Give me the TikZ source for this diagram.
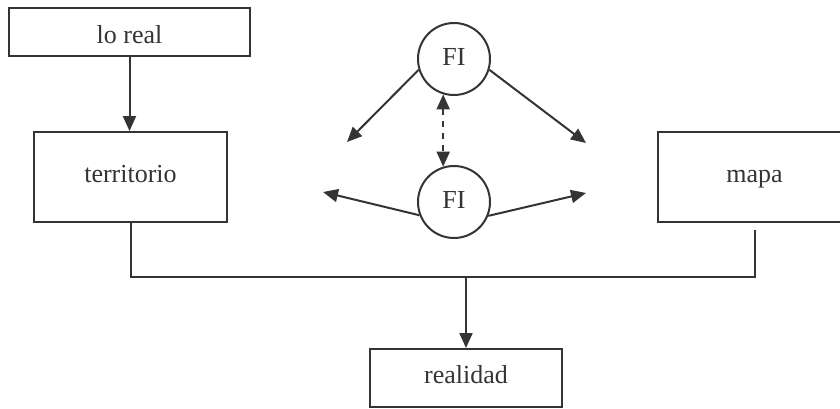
\documentclass[tikz,border=0pt]{standalone}
\usepackage{fontspec}
\setmainfont{Liberation Serif}
\usetikzlibrary{arrows.meta}
\definecolor{ink}{HTML}{333338}
\tikzset{caja/.style={draw=ink, line width=1pt, text=ink, inner sep=0pt,
  text height=9pt, text depth=4pt, font=\fontsize{13}{15}\selectfont}}
\tikzset{fi/.style={caja, circle, minimum size=36pt, text height=8.5pt, text depth=2.5pt}}
\tikzset{flecha/.style={draw=ink, line width=1pt,
  -{Triangle[length=7.5pt,width=6.5pt]}}}
\begin{document}
\begin{tikzpicture}[x=0.5pt, y=-0.5pt]
      \useasboundingbox (0, 0) rectangle (840, 408);

      \node [caja, minimum width=120.5pt, minimum height=24pt, text height=11pt, text depth=0pt] (loreal) at (129.5, 32) {lo real};
      \node [caja, minimum width=96.5pt, minimum height=45pt] (territorio) at (130.5, 177) {territorio};
      \node [caja, minimum width=96.5pt, minimum height=45pt] (mapa) at (754.5, 177) {mapa};
      \node [caja, minimum width=96pt, minimum height=29pt] (realidad) at (466, 378) {realidad};

      \node [fi] (fiA) at (454, 59) {FI};
      \node [fi] (fiB) at (454, 202) {FI};

      \coordinate (a1) at (347, 142);
      \coordinate (a2) at (586, 143);
      \coordinate (b1) at (323, 192);
      \coordinate (b2) at (586, 193);
      \coordinate (union) at (466, 277);

      \draw [flecha] (loreal.south) -- (loreal.south |- territorio.north);

      \draw [flecha] (fiA.197) -- (a1);
      \draw [flecha] (fiA.343) -- (a2);
      \draw [flecha] (fiB.201) -- (b1);
      \draw [flecha] (fiB.338) -- (b2);
      \draw [flecha, dashed, {Triangle[length=7.5pt,width=6.5pt]}-{Triangle[length=7.5pt,width=6.5pt]}] (fiA.253) -- (fiB.107);

      \draw [draw=ink, line width=1pt] (territorio.south) |- (union) -| ([yshift=-3.5pt]mapa.south);
      \draw [flecha] (union) -- (realidad.north);

    \end{tikzpicture}
\end{document}
